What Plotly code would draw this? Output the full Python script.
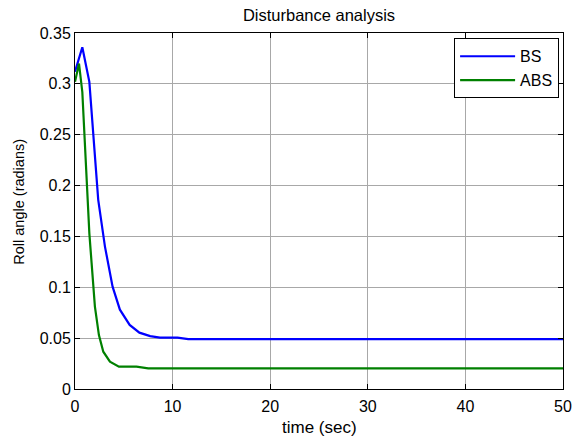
import plotly.graph_objects as go

t_bs = [0, 0.75, 1.47, 1.98, 2.38, 3.07, 3.85, 4.6, 5.6, 6.6, 7.7, 8.7, 10.5, 11.6, 20, 30, 40, 50]
y_bs = [0.312, 0.336, 0.302, 0.235, 0.186, 0.140, 0.1006, 0.078, 0.063, 0.0554, 0.052, 0.0505, 0.0505, 0.049, 0.049, 0.049, 0.049, 0.049]

t_abs = [0, 0.41, 0.75, 1.02, 1.47, 1.7, 2.04, 2.45, 2.9, 3.58, 4.5, 6.3, 7.5, 20, 30, 40, 50]
y_abs = [0.302, 0.32, 0.292, 0.235, 0.153, 0.124, 0.081, 0.053, 0.0367, 0.0269, 0.022, 0.022, 0.0203, 0.0203, 0.0203, 0.0203, 0.0203]

x_ticks = [0, 10, 20, 30, 40, 50]
y_ticks = [0, 0.05, 0.1, 0.15, 0.2, 0.25, 0.3, 0.35]
y_tick_labels = ["0", "0.05", "0.1", "0.15", "0.2", "0.25", "0.3", "0.35"]

FONT = "Liberation Sans, Arial, sans-serif"

fig = go.Figure()
fig.add_trace(go.Scatter(x=t_bs, y=y_bs, mode="lines", name="BS",
                         line=dict(color="#0000ff", width=2.2)))
fig.add_trace(go.Scatter(x=t_abs, y=y_abs, mode="lines", name="ABS",
                         line=dict(color="#008000", width=2.2)))

axis_common = dict(showline=True, linecolor="black", linewidth=1, mirror="ticks",
                   ticks="inside", ticklen=5, tickcolor="black",
                   showgrid=True, gridcolor="#a8a8a8", gridwidth=1, zeroline=False,
                   tickfont=dict(size=16, color="black", family=FONT))

fig.update_layout(
    width=580, height=436,
    margin=dict(l=75, r=17, t=33, b=47, autoexpand=False),
    paper_bgcolor="white", plot_bgcolor="white",
    font=dict(family=FONT, size=16, color="black"),
    title=dict(text="Disturbance analysis", xref="paper", x=0.5, xanchor="center",
               y=1 - 15.5 / 436, yanchor="middle", font=dict(size=16.5)),
    xaxis=dict(range=[0, 50], tickvals=x_ticks, ticklabelstandoff=3, **axis_common),
    yaxis=dict(range=[0, 0.35], tickvals=y_ticks, ticktext=y_tick_labels, **axis_common),
    legend=dict(x=0.992, y=0.985, xanchor="right", yanchor="top",
                bordercolor="black", borderwidth=1, bgcolor="white",
                font=dict(size=16), itemwidth=55, tracegroupgap=0),
    showlegend=True,
    annotations=[
        dict(text="time (sec)", xref="paper", yref="paper", x=0.5, y=0,
             xanchor="center", yanchor="middle", yshift=-38, showarrow=False,
             font=dict(size=17)),
        dict(text="Roll angle (radians)", xref="paper", yref="paper", x=0,
             y=(389 - 201.7) / 356, xanchor="center", yanchor="middle", xshift=-56,
             textangle=-90, showarrow=False, font=dict(size=14.5)),
    ],
)

fig.write_html("out.html")
